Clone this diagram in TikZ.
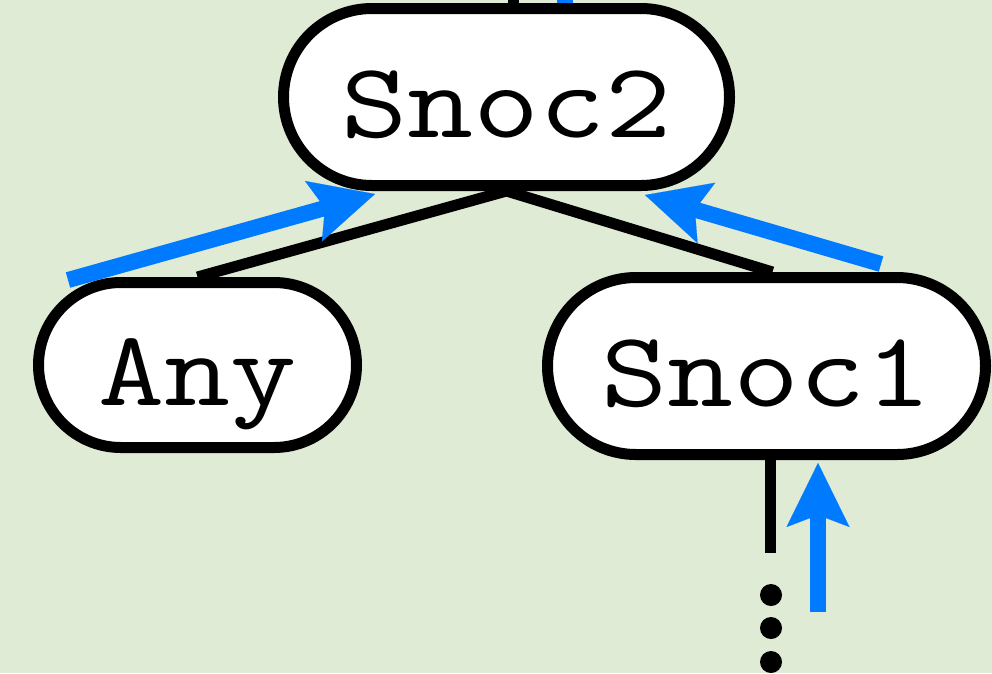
\documentclass[tikz,border=0pt]{standalone}
\usepackage{graphicx}
\usetikzlibrary{arrows.meta,shapes.misc}
\definecolor{bggreen}{RGB}{223,235,212}
\definecolor{flowblue}{RGB}{0,122,255}
\newcommand\widetype[1]{\scalebox{1.2}[1]{#1}}
\pgfdeclarelayer{bottom}
\pgfdeclarelayer{back}
\pgfsetlayers{bottom,back,main}
\begin{document}
\begin{tikzpicture}[x=1pt,y=-1pt,
  term/.style={draw=black, line width=11pt, fill=white, rounded rectangle,
    inner sep=0pt, font=\ttfamily\fontsize{107}{107}\selectfont,
    text height=100pt, text depth=20pt},
  treeedge/.style={draw=black, line width=11pt},
  flow/.style={draw=flowblue, line width=16pt,
    -{Stealth[length=64pt,width=63pt,inset=12pt,line width=0.1pt]}},
  dot/.style={circle, fill=black, inner sep=0pt, minimum size=22pt}
]
\useasboundingbox (0,0) rectangle (992,673);
\begin{pgfonlayer}{bottom}
  \fill[bggreen] (0,0) rectangle (992,673);
\end{pgfonlayer}
\clip (0,0) rectangle (992,673);

\node[term, minimum width=446pt, minimum height=177pt] (snoc2) at (506.5,97) {\widetype{Snoc2}};
\node[term, minimum width=318pt, minimum height=165pt] (any) at (197.5,365) {\widetype{Any}};
\node[term, minimum width=438pt, minimum height=177pt] (snoc1) at (766.5,366) {\widetype{Snoc1}};

\coordinate (s1end) at (770,553);
\node[dot] (d1) at (771,595) {};
\node[dot] (d2) at (771,628) {};
\node[dot] (d3) at (771,662) {};

\begin{pgfonlayer}{back}
  \draw[treeedge] (snoc2.south) -- (any.north);
  \draw[treeedge] (snoc2.south) -- ([xshift=6pt]snoc1.north);
  \draw[treeedge] ([xshift=6.5pt]snoc2.north) -- ++(0,-40);
  \draw[treeedge] (snoc1.south -| s1end) -- (s1end);
  \draw[flowblue, line width=16pt] ([xshift=58.5pt]snoc2.north) -- ++(0,-40);
\end{pgfonlayer}

\coordinate (a1s) at (68,280);
\coordinate (a1e) at (375,194);
\coordinate (a2s) at (881,264);
\coordinate (a2e) at (645,195);
\coordinate (a3s) at (818,612);
\coordinate (a3e) at (818,463);
\draw[flow] (a1s) -- (a1e);
\draw[flow] (a2s) -- (a2e);
\draw[flow] (a3s) -- (a3e);
\end{tikzpicture}
\end{document}
